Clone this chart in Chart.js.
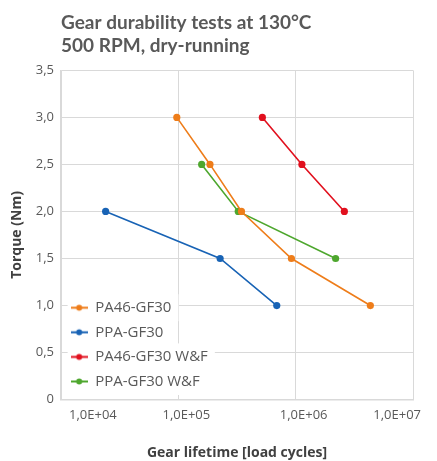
<!DOCTYPE html>
<html>
<head>
<meta charset="utf-8">
<script src="https://cdn.jsdelivr.net/npm/chart.js@4.4.1/dist/chart.umd.min.js"></script>
<style>
  html, body { margin: 0; padding: 0; background: #ffffff; }
  #wrap { position: relative; width: 437px; height: 461px; }
</style>
</head>
<body>
<div id="wrap"><canvas id="c"></canvas></div>
<script>
// ---- data ----
const titleLines = ["Gear durability tests at 130°C", "500 RPM, dry-running"];
const xTitle = "Gear lifetime [load cycles]";
const yTitle = "Torque (Nm)";
const seriesNames = ["PA46-GF30", "PPA-GF30", "PA46-GF30 W&F", "PPA-GF30 W&F"];
const seriesColors = ["#EE7D1A", "#1863B5", "#E1101E", "#4EA72E"];

const pa46Cycles   = [97000, 186000, 345000, 920000, 4330000];
const pa46Torque   = [3.0, 2.5, 2.0, 1.5, 1.0];
const ppaCycles    = [24000, 227000, 690000];
const ppaTorque    = [2.0, 1.5, 1.0];
const pa46wfCycles = [520000, 1130000, 2600000];
const pa46wfTorque = [3.0, 2.5, 2.0];
const ppawfCycles  = [158000, 324000, 2190000];
const ppawfTorque  = [2.5, 2.0, 1.5];

const xTickValues = [1e4, 1e5, 1e6, 1e7];
const yTickValues = [0, 0.5, 1.0, 1.5, 2.0, 2.5, 3.0, 3.5];

// ---- build ----
const FONT = "'Open Sans', 'Noto Sans', sans-serif";
const TITLE_FONT = "Lato, 'Open Sans', sans-serif";
const TEXT = "#595959";
const GRID = "#d9d9d9";

function pts(xs, ys) { return xs.map((x, i) => ({ x: x, y: ys[i] })); }
const seriesData = [
  pts(pa46Cycles, pa46Torque),
  pts(ppaCycles, ppaTorque),
  pts(pa46wfCycles, pa46wfTorque),
  pts(ppawfCycles, ppawfTorque)
];

function markerImage(color) {
  const cv = document.createElement('canvas');
  cv.width = 17; cv.height = 9;
  const g = cv.getContext('2d');
  g.strokeStyle = color; g.lineWidth = 2;
  g.beginPath(); g.moveTo(0, 4.5); g.lineTo(17, 4.5); g.stroke();
  g.fillStyle = color;
  g.beginPath(); g.arc(8.5, 4.5, 3, 0, Math.PI * 2); g.fill();
  return cv;
}
const markers = seriesColors.map(markerImage);

const datasets = seriesNames.map((name, i) => ({
  label: name,
  data: seriesData[i],
  borderColor: seriesColors[i],
  backgroundColor: seriesColors[i],
  borderWidth: 1.6,
  pointRadius: 3.6,
  pointHoverRadius: 3.6,
  pointBorderWidth: 0,
  showLine: true,
  tension: 0
}));

function fmtSci(v) {
  const e = Math.round(Math.log10(v));
  return "1,0E+" + (e < 10 ? "0" + e : e);
}

const legendFix = {
  id: 'legendFix',
  afterLayout(chart) {
    const lg = chart.legend, ca = chart.chartArea;
    if (!lg) return;
    lg.top = ca.bottom - 109;
    lg.bottom = ca.bottom + 40;
    lg.height = lg.bottom - lg.top;
    lg.left = ca.left;
  },
  beforeDatasetsDraw(chart) {
    const lg = chart.legend;
    if (!lg || !lg.legendHitBoxes) return;
    const ctx = chart.ctx;
    ctx.save();
    ctx.fillStyle = '#ffffff';
    lg.legendHitBoxes.forEach(b => {
      ctx.fillRect(b.left - 3, b.top - 6, b.width + 10, b.height + 12);
    });
    ctx.restore();
    lg.draw();
  }
};

new Chart(document.getElementById('c'), {
  type: 'scatter',
  data: { datasets: datasets },
  plugins: [legendFix],
  options: {
    responsive: true,
    maintainAspectRatio: false,
    animation: false,
    events: [],
    layout: { padding: { left: 9, right: 0, top: 0, bottom: 0 } },
    plugins: {
      tooltip: { enabled: false },
      title: {
        display: true,
        text: titleLines,
        align: 'start',
        fullSize: false,
        color: TEXT,
        font: { family: TITLE_FONT, size: 19, weight: 'bold', lineHeight: 1.22 },
        padding: { top: 11, bottom: 13 }
      },
      legend: {
        display: true,
        position: 'chartArea',
        align: 'start',
        labels: {
          usePointStyle: true,
          pointStyleWidth: 17,
          boxHeight: 9,
          padding: 9.6,
          color: TEXT,
          font: { family: FONT, size: 15 },
          generateLabels(chart) {
            return chart.data.datasets.map((ds, i) => ({
              text: ds.label,
              fillStyle: ds.backgroundColor,
              strokeStyle: ds.borderColor,
              lineWidth: 0,
              pointStyle: markers[i],
              datasetIndex: i,
              hidden: false,
              fontColor: TEXT
            }));
          }
        }
      }
    },
    scales: {
      x: {
        type: 'logarithmic',
        min: xTickValues[0],
        max: xTickValues[xTickValues.length - 1],
        afterBuildTicks(scale) { scale.ticks = xTickValues.map(v => ({ value: v, major: true })); },
        afterFit(scale) { scale.paddingRight = 24; },
        ticks: {
          callback: (v) => fmtSci(v),
          color: TEXT,
          font: { family: FONT, size: 13 },
          autoSkip: false,
          maxRotation: 0,
          align: 'inner',
          labelOffset: 8,
          padding: 8
        },
        grid: { color: GRID, lineWidth: 1, drawTicks: false },
        border: { color: GRID, width: 1.5 },
        title: {
          display: true,
          text: xTitle,
          color: "#404040",
          font: { family: FONT, size: 14, weight: 'bold' },
          padding: { top: 13, bottom: 0 }
        }
      },
      y: {
        type: 'linear',
        min: yTickValues[0],
        max: yTickValues[yTickValues.length - 1],
        afterBuildTicks(scale) { scale.ticks = yTickValues.map(v => ({ value: v })); },
        ticks: {
          callback: (v) => v === 0 ? "0" : v.toFixed(1).replace('.', ','),
          color: TEXT,
          font: { family: FONT, size: 13 },
          padding: 7
        },
        grid: { color: GRID, lineWidth: 1, drawTicks: false },
        border: { color: GRID, width: 1.5 },
        title: {
          display: true,
          text: yTitle,
          color: "#404040",
          font: { family: FONT, size: 14, weight: 'bold' },
          padding: { top: 0, bottom: 3 }
        }
      }
    }
  }
});
</script>
</body>
</html>
